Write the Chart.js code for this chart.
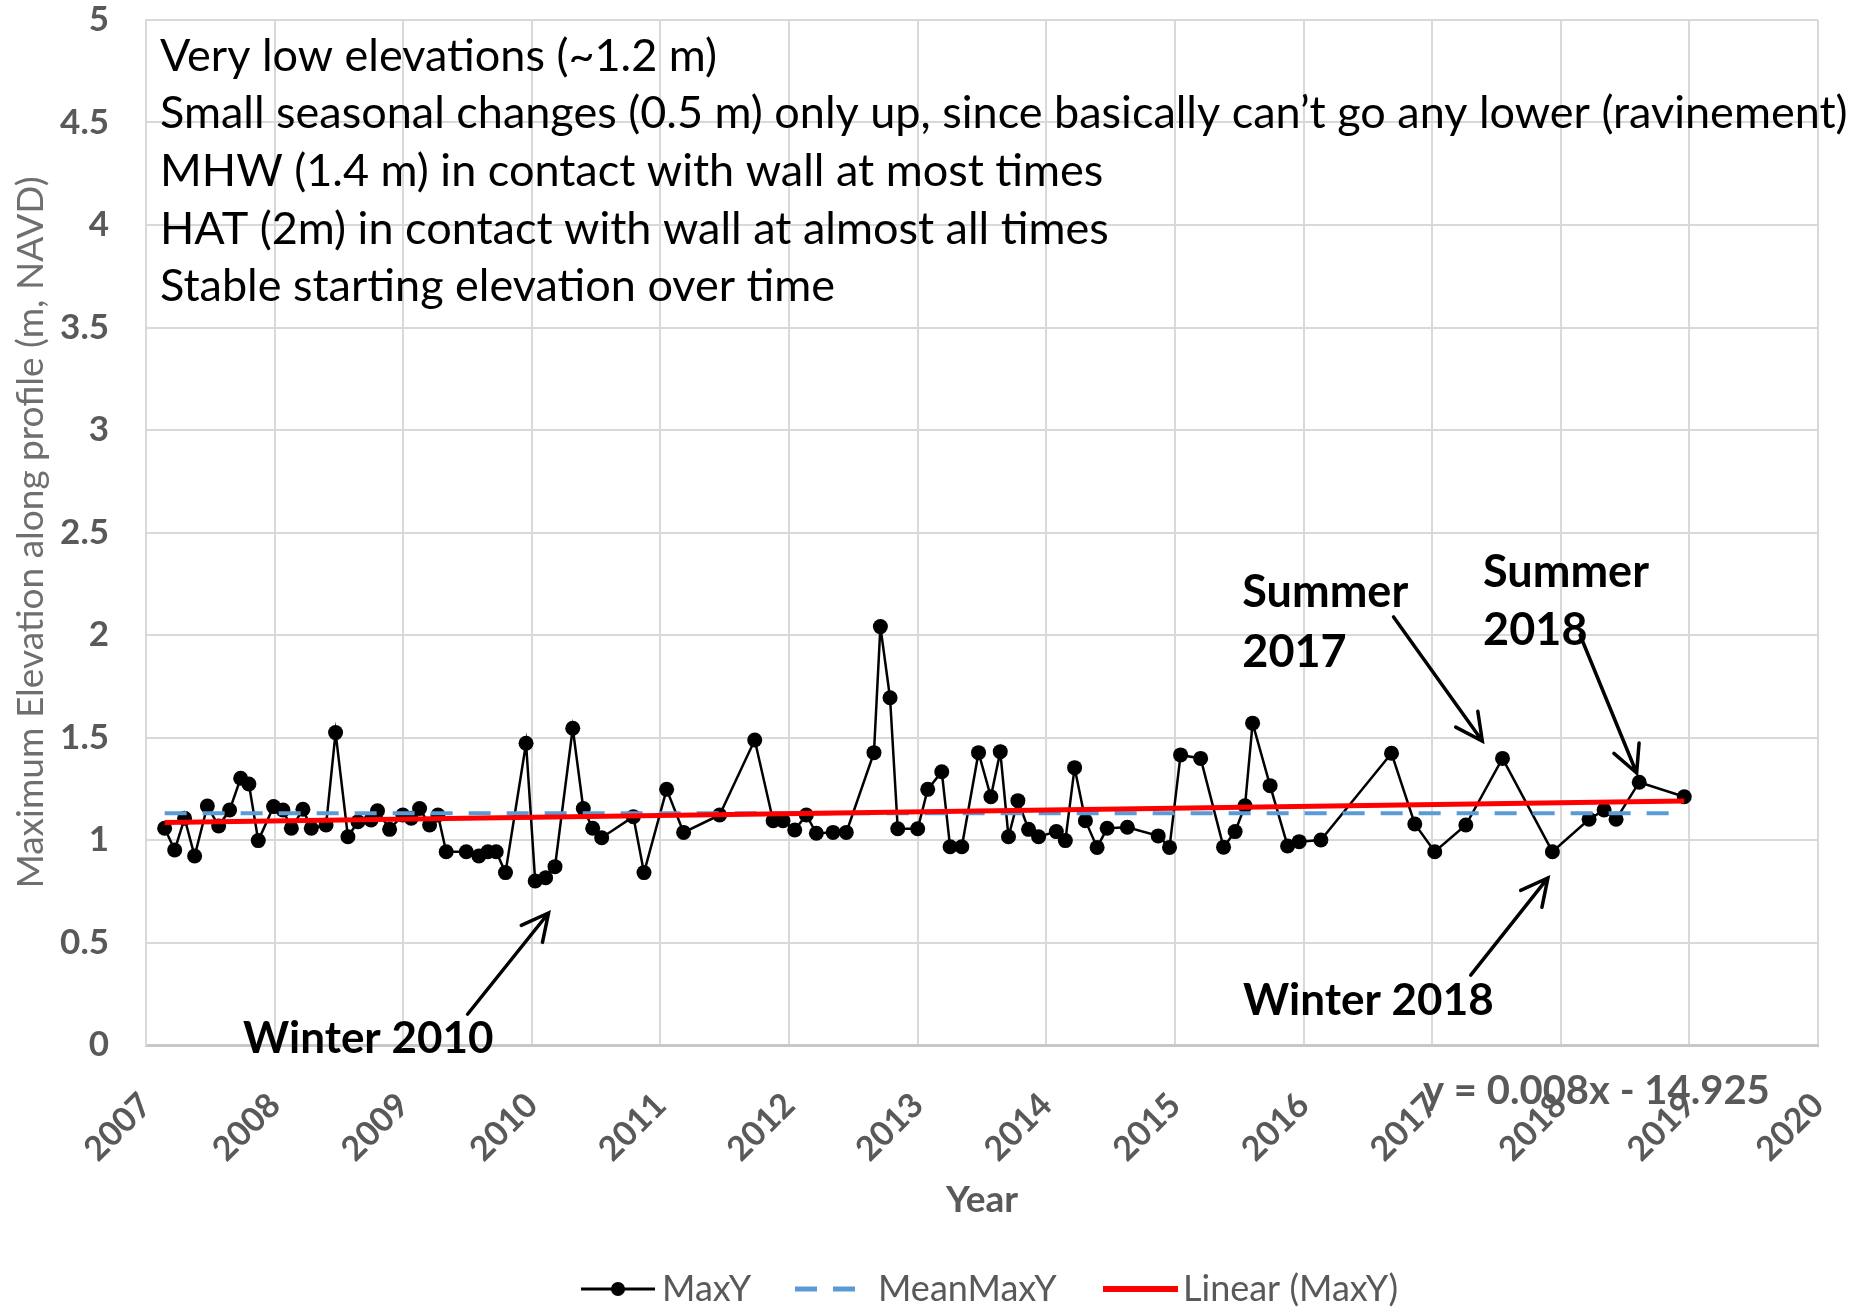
<!DOCTYPE html>
<html>
<head>
<meta charset="utf-8">
<script src="https://cdn.jsdelivr.net/npm/chart.js@4.4.1/dist/chart.umd.min.js"></script>
<style>
  html, body { margin: 0; padding: 0; background: #fff; }
  #wrap { width: 1860px; height: 1309px; }
</style>
</head>
<body>
<div id="wrap"><canvas id="elevChart" width="1860" height="1309"></canvas></div>
<script>
// survey dates (decimal year) and max elevation along profile (m, NAVD)
const years = [2007.145, 2007.223, 2007.30, 2007.378, 2007.477, 2007.565, 2007.65, 2007.736, 2007.80, 2007.873,
  2007.992, 2008.065, 2008.13, 2008.22, 2008.285, 2008.40, 2008.474, 2008.57, 2008.648, 2008.75,
  2008.80, 2008.894, 2008.997, 2009.062, 2009.127, 2009.205, 2009.27, 2009.334, 2009.49, 2009.588,
  2009.658, 2009.723, 2009.795, 2009.955, 2010.026, 2010.107, 2010.18, 2010.318, 2010.40, 2010.473,
  2010.543, 2010.789, 2010.872, 2011.048, 2011.18, 2011.46, 2011.733, 2011.876, 2011.953, 2012.044,
  2012.134, 2012.212, 2012.342, 2012.445, 2012.66, 2012.71, 2012.785, 2012.845, 2013.0, 2013.078,
  2013.187, 2013.252, 2013.343, 2013.473, 2013.569, 2013.642, 2013.706, 2013.779, 2013.862, 2013.94,
  2014.078, 2014.148, 2014.22, 2014.304, 2014.395, 2014.473, 2014.63, 2014.87, 2014.958, 2015.044,
  2015.2, 2015.378, 2015.468, 2015.545, 2015.604, 2015.74, 2015.876, 2015.966, 2016.135, 2016.684,
  2016.865, 2017.02, 2017.262, 2017.547, 2017.935, 2018.22, 2018.337, 2018.43, 2018.61, 2018.96];
const maxY = [1.057, 0.951, 1.106, 0.922, 1.166, 1.068, 1.146, 1.301, 1.273, 0.997,
  1.163, 1.146, 1.057, 1.15, 1.057, 1.073, 1.524, 1.016, 1.089, 1.098,
  1.143, 1.052, 1.122, 1.106, 1.154, 1.073, 1.122, 0.943, 0.943, 0.922,
  0.943, 0.943, 0.841, 1.472, 0.80, 0.816, 0.87, 1.545, 1.154, 1.057,
  1.011, 1.114, 0.841, 1.247, 1.037, 1.122, 1.488, 1.094, 1.094, 1.049,
  1.122, 1.033, 1.037, 1.037, 1.426, 2.041, 1.694, 1.055, 1.055, 1.247,
  1.333, 0.967, 0.967, 1.426, 1.211, 1.431, 1.016, 1.192, 1.052, 1.016,
  1.041, 0.997, 1.353, 1.094, 0.964, 1.057, 1.062, 1.02, 0.964, 1.415,
  1.398, 0.965, 1.041, 1.167, 1.570, 1.265, 0.971, 0.992, 1.0, 1.423,
  1.078, 0.943, 1.073, 1.398, 0.943, 1.101, 1.146, 1.101, 1.282, 1.211];

const meanX = [2007.145, 2018.96];
const meanY = [1.13, 1.13];
const trendX = [2007.145, 2018.96];
const trendY = [1.085, 1.19];

const xTicks = [2007, 2008, 2009, 2010, 2011, 2012, 2013, 2014, 2015, 2016, 2017, 2018, 2019, 2020];
const yTicks = [0, 0.5, 1, 1.5, 2, 2.5, 3, 3.5, 4, 4.5, 5];

const noteLines = [
  'Very low elevations (~1.2 m)',
  'Small seasonal changes (0.5 m) only up, since basically can\u2019t go any lower (ravinement)',
  'MHW (1.4 m) in contact with wall at most times',
  'HAT (2m) in contact with wall at almost all times',
  'Stable starting elevation over time'
];
const equation = 'y = 0.008x - 14.925';

const FONT = 'Lato, "Open Sans", sans-serif';
const GRAY = '#595959';

const toPts = (xs, ys) => xs.map((v, i) => ({ x: v, y: ys[i] }));

function arrow(ctx, x1, y1, x2, y2) {
  const ang = Math.atan2(y2 - y1, x2 - x1);
  const len = 30, spread = 0.47;
  ctx.beginPath();
  ctx.moveTo(x1, y1);
  ctx.lineTo(x2, y2);
  ctx.moveTo(x2 - len * Math.cos(ang - spread), y2 - len * Math.sin(ang - spread));
  ctx.lineTo(x2, y2);
  ctx.lineTo(x2 - len * Math.cos(ang + spread), y2 - len * Math.sin(ang + spread));
  ctx.stroke();
}

// keep the plot box where the original has it (no extra label overhang padding)
function noPad(s) {
  s.paddingTop = 0; s.paddingBottom = 0; s.paddingLeft = 0; s.paddingRight = 0;
}

const notesPlugin = {
  id: 'notes',
  afterDraw(chart) {
    const { ctx, chartArea: a, scales: { x, y } } = chart;
    ctx.save();

    // text block at top-left of plot, sized so the long line spans like the original
    ctx.font = '40px ' + FONT;
    const w = ctx.measureText(noteLines[1]).width;
    const fs = 40 * 1688 / w;
    ctx.font = fs.toFixed(1) + 'px ' + FONT;
    ctx.fillStyle = '#000';
    ctx.textBaseline = 'middle';
    ctx.textAlign = 'left';
    noteLines.forEach((t, i) => ctx.fillText(t, a.left + 14, a.top + 36 + i * 57.7));

    // bold labels
    ctx.font = 'bold 45px ' + FONT;
    ctx.fillText('Summer', x.getPixelForValue(2015.524), y.getPixelForValue(2.205));
    ctx.fillText('2017', x.getPixelForValue(2015.524), y.getPixelForValue(1.917));
    ctx.fillText('Summer', x.getPixelForValue(2017.396), y.getPixelForValue(2.307));
    ctx.fillText('2018', x.getPixelForValue(2017.396), y.getPixelForValue(2.024));
    ctx.font = 'bold 44px ' + FONT;
    ctx.fillText('Winter 2018', x.getPixelForValue(2015.53), y.getPixelForValue(0.215));
    ctx.fillText('Winter 2010', x.getPixelForValue(2007.754), y.getPixelForValue(0.03));

    // arrows
    ctx.strokeStyle = '#000';
    ctx.lineWidth = 3.5;
    ctx.lineCap = 'round';
    const px = (yr, v) => [x.getPixelForValue(yr), y.getPixelForValue(v)];
    arrow(ctx, ...px(2009.50, 0.15), ...px(2010.13, 0.644));
    arrow(ctx, ...px(2016.70, 2.088), ...px(2017.39, 1.483));
    arrow(ctx, ...px(2018.15, 2.0), ...px(2018.59, 1.327));
    arrow(ctx, ...px(2017.30, 0.341), ...px(2017.90, 0.815));

    // trendline equation
    ctx.font = 'bold 40px ' + FONT;
    ctx.fillStyle = GRAY;
    ctx.fillText(equation, 1423, 1091);

    // legend
    const ly = 1289;
    ctx.font = '36px ' + FONT;
    ctx.lineCap = 'butt';
    ctx.strokeStyle = '#000';
    ctx.lineWidth = 3;
    ctx.beginPath(); ctx.moveTo(581, ly); ctx.lineTo(655, ly); ctx.stroke();
    ctx.fillStyle = '#000';
    ctx.beginPath(); ctx.arc(618, ly, 7, 0, Math.PI * 2); ctx.fill();
    ctx.fillStyle = GRAY;
    ctx.fillText('MaxY', 662, ly);

    ctx.strokeStyle = '#5b9bd5';
    ctx.lineWidth = 5;
    ctx.setLineDash([22, 16]);
    ctx.beginPath(); ctx.moveTo(795, ly); ctx.lineTo(855, ly); ctx.stroke();
    ctx.setLineDash([]);
    ctx.fillText('MeanMaxY', 878, ly);

    ctx.strokeStyle = '#ff0000';
    ctx.lineWidth = 6;
    ctx.beginPath(); ctx.moveTo(1103, ly); ctx.lineTo(1178, ly); ctx.stroke();
    ctx.fillText('Linear (MaxY)', 1183, ly);

    ctx.restore();
  }
};

new Chart(document.getElementById('elevChart'), {
  type: 'scatter',
  data: {
    datasets: [
      {
        label: 'Linear (MaxY)',
        data: toPts(trendX, trendY),
        showLine: true,
        borderColor: '#ff0000',
        borderWidth: 5,
        pointRadius: 0,
        order: 1
      },
      {
        label: 'MeanMaxY',
        data: toPts(meanX, meanY),
        showLine: true,
        borderColor: '#5b9bd5',
        borderWidth: 4,
        borderDash: [22, 16],
        pointRadius: 0,
        order: 2
      },
      {
        label: 'MaxY',
        data: toPts(years, maxY),
        showLine: true,
        borderColor: '#000',
        borderWidth: 2.5,
        pointRadius: 7.5,
        pointBackgroundColor: '#000',
        pointBorderColor: '#000',
        pointBorderWidth: 0,
        tension: 0,
        order: 3
      }
    ]
  },
  options: {
    responsive: false,
    animation: false,
    devicePixelRatio: 1,
    layout: { padding: { top: 20, right: 42, bottom: 0, left: 0 } },
    plugins: {
      legend: { display: false },
      tooltip: { enabled: false }
    },
    scales: {
      x: {
        type: 'linear',
        min: 2007,
        max: 2020,
        afterFit: s => { s.height = 264; noPad(s); },
        afterBuildTicks: s => { s.ticks = xTicks.map(v => ({ value: v })); },
        ticks: {
          callback: v => String(v),
          minRotation: 45,
          maxRotation: 45,
          padding: 40,
          color: GRAY,
          font: { family: FONT, size: 34, weight: 'bold' }
        },
        grid: { color: '#d9d9d9', lineWidth: 2, drawTicks: false },
        border: { color: '#c8c8c8', width: 3 },
        title: {
          display: true,
          text: 'Year',
          color: GRAY,
          font: { family: FONT, size: 37, weight: 'bold' },
          padding: { top: 0, bottom: 87 }
        }
      },
      y: {
        min: 0,
        max: 5,
        afterFit: s => { s.width = 146; noPad(s); },
        afterBuildTicks: s => { s.ticks = yTicks.map(v => ({ value: v })); },
        ticks: {
          callback: v => String(v),
          padding: 37,
          color: GRAY,
          font: { family: FONT, size: 35, weight: 'bold' }
        },
        grid: { color: '#d9d9d9', lineWidth: 2, drawTicks: false },
        border: { color: '#d9d9d9', width: 2 },
        title: {
          display: true,
          text: 'Maximum Elevation along profile (m, NAVD)',
          color: '#6f6f6f',
          font: { family: FONT, size: 37 },
          padding: { top: 9, bottom: 0 }
        }
      }
    }
  },
  plugins: [notesPlugin]
});
</script>
</body>
</html>
